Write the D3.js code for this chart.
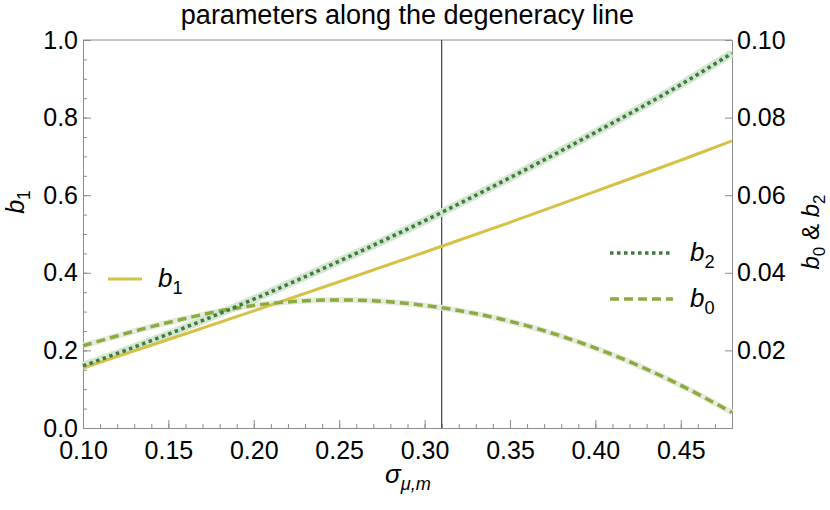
<!DOCTYPE html>
<html>
<head>
<meta charset="utf-8">
<script src="https://cdn.jsdelivr.net/npm/d3@7"></script>
<style>
  body { margin: 0; background: #fff; }
  text { font-family: "Liberation Sans", Arial, sans-serif; fill: #000; }
</style>
</head>
<body>
<div class="canvas"></div>
<script>
// values
const sigma = [0.10, 0.15, 0.20, 0.25, 0.30, 0.35, 0.40, 0.45, 0.48];
const b1 = [0.155, 0.228, 0.302, 0.377, 0.453, 0.530, 0.610, 0.690, 0.740];
const b2 = [0.0160, 0.0242, 0.0332, 0.0430, 0.0534, 0.0645, 0.0762, 0.0885, 0.0966];
const b0 = [0.0212, 0.0272, 0.0316, 0.0330, 0.0316, 0.0275, 0.0206, 0.0110, 0.0040];

const xTicks = [0.10, 0.15, 0.20, 0.25, 0.30, 0.35, 0.40, 0.45];
const leftTicks = [0.0, 0.2, 0.4, 0.6, 0.8, 1.0];
const rightTicks = [0.02, 0.04, 0.06, 0.08, 0.10];
const markerSigma = 0.31;

const dims = { width: 830, height: 510 };
const margin = { top: 40, right: 98, bottom: 82, left: 83 };
const inner = {
  w: dims.width - margin.left - margin.right,
  h: dims.height - margin.top - margin.bottom,
};

const colors = {
  b1: "#d5c146",
  b2: "#3f7a3f",
  b2halo: "#d3e6d0",
  b0: "#8bab3f",
  b0halo: "#e6eadf",
  axis: "#8c8c8c",
};

const svg = d3
  .select(".canvas")
  .append("svg")
  .attr("width", dims.width)
  .attr("height", dims.height);

const graph = svg
  .append("g")
  .attr("transform", `translate(${margin.left}, ${margin.top})`);

const x = d3.scaleLinear().domain([0.1, 0.48]).range([0, inner.w]);
const yL = d3.scaleLinear().domain([0, 1]).range([inner.h, 0]);
const yR = d3.scaleLinear().domain([0, 0.1]).range([inner.h, 0]);

// axes
const fmt2 = d3.format(".2f");
const fmt1 = d3.format(".1f");

const xAxis = d3.axisBottom(x).tickValues(xTicks).tickFormat(fmt2).tickSize(-8).tickPadding(13);
const xMinor = d3.axisBottom(x).tickValues(d3.range(10, 48).map((v) => v / 100)).tickFormat("").tickSize(-4);
const yAxisL = d3.axisLeft(yL).tickValues(leftTicks).tickFormat(fmt1).tickSize(-8).tickPadding(5);
const yMinorL = d3.axisLeft(yL).tickValues(d3.range(0, 21).map((v) => v * 0.05)).tickFormat("").tickSize(-4);
const yAxisR = d3.axisRight(yR).tickValues(rightTicks).tickFormat(fmt2).tickSize(-7).tickPadding(5);

const styleAxis = (g) => {
  g.select(".domain").attr("stroke", colors.axis);
  g.selectAll(".tick line").attr("stroke", colors.axis);
  g.selectAll(".tick text").attr("font-size", 25).attr("fill", "#000")
    .attr("font-family", '"Liberation Sans", Arial, sans-serif');
};

graph.append("g").attr("transform", `translate(0, ${inner.h})`).call(xMinor).call(styleAxis);
graph.append("g").attr("transform", `translate(0, ${inner.h})`).call(xAxis).call(styleAxis);
graph.append("g").call(yMinorL).call(styleAxis);
graph.append("g").call(yAxisL).call(styleAxis);
graph.append("g").attr("transform", `translate(${inner.w}, 0)`).call(yAxisR).call(styleAxis);

// top frame line
graph
  .append("line")
  .attr("x1", 0)
  .attr("x2", inner.w)
  .attr("y1", 0)
  .attr("y2", 0)
  .attr("stroke", colors.axis);

// vertical marker
graph
  .append("line")
  .attr("x1", x(markerSigma))
  .attr("x2", x(markerSigma))
  .attr("y1", 0)
  .attr("y2", inner.h)
  .attr("stroke", "#444")
  .attr("stroke-width", 1.2);

// curves
const lineL = d3.line().x((d) => x(d[0])).y((d) => yL(d[1])).curve(d3.curveMonotoneX);
const lineR = d3.line().x((d) => x(d[0])).y((d) => yR(d[1])).curve(d3.curveMonotoneX);
const pts = (vals) => sigma.map((s, i) => [s, vals[i]]);

const plot = graph.append("g");

plot.append("path").attr("d", lineR(pts(b0)))
  .attr("fill", "none").attr("stroke", colors.b0halo).attr("stroke-width", 6);
plot.append("path").attr("d", lineR(pts(b2)))
  .attr("fill", "none").attr("stroke", colors.b2halo).attr("stroke-width", 8);

plot.append("path").attr("d", lineL(pts(b1)))
  .attr("fill", "none").attr("stroke", colors.b1).attr("stroke-width", 3);

plot.append("path").attr("d", lineR(pts(b0)))
  .attr("fill", "none").attr("stroke", colors.b0).attr("stroke-width", 3.5)
  .attr("stroke-dasharray", "9,5");

plot.append("path").attr("d", lineR(pts(b2)))
  .attr("fill", "none").attr("stroke", colors.b2).attr("stroke-width", 3.5)
  .attr("stroke-dasharray", "3.5,3.5");

// symbol text helper: italic main + subscript
const sym = (sel, main, sub, size, subItalic) => {
  sel.append("tspan").attr("font-style", "italic").text(main);
  sel.append("tspan")
    .attr("font-size", size * 0.7)
    .attr("dy", size * 0.25)
    .attr("font-style", subItalic ? "italic" : "normal")
    .text(sub);
};

// title
svg
  .append("text")
  .attr("x", margin.left + inner.w / 2)
  .attr("y", 24)
  .attr("text-anchor", "middle")
  .attr("font-size", 27)
  .text("parameters along the degeneracy line");

// axis titles
const leftLabel = svg
  .append("text")
  .attr("transform", "translate(24, 202) rotate(-90)")
  .attr("text-anchor", "middle")
  .attr("font-size", 25);
sym(leftLabel, "b", "1", 25, false);

const rightLabel = svg
  .append("text")
  .attr("transform", "translate(819, 232) rotate(-90)")
  .attr("text-anchor", "middle")
  .attr("font-size", 24);
rightLabel.append("tspan").attr("font-style", "italic").text("b");
rightLabel.append("tspan").attr("font-size", 17).attr("dy", 6).text("0");
rightLabel.append("tspan").attr("dy", -6).text(" & ");
rightLabel.append("tspan").attr("font-style", "italic").text("b");
rightLabel.append("tspan").attr("font-size", 17).attr("dy", 6).text("2");

const bottomLabel = svg
  .append("text")
  .attr("x", 408)
  .attr("y", 483)
  .attr("text-anchor", "middle")
  .attr("font-size", 26);
sym(bottomLabel, "\u03c3", "\u03bc,m", 26, true);

// legends
const legendItems = [
  { name: "b1", main: "b", sub: "1", color: colors.b1, dash: null, x: 108, y: 279 },
  { name: "b2", main: "b", sub: "2", color: colors.b2, dash: "3.5,3.5", x: 610, y: 253 },
  { name: "b0", main: "b", sub: "0", color: colors.b0, dash: "9,5", x: 610, y: 299 },
];

legendItems.forEach((d) => {
  const len = d.name === "b1" ? 34 : 63;
  svg
    .append("line")
    .attr("x1", d.x)
    .attr("x2", d.x + len)
    .attr("y1", d.y)
    .attr("y2", d.y)
    .attr("stroke", d.color)
    .attr("stroke-width", d.dash ? 3.5 : 3)
    .attr("stroke-dasharray", d.dash);
  const t = svg
    .append("text")
    .attr("x", d.x + len + (d.name === "b1" ? 16 : 17))
    .attr("y", d.y + 8)
    .attr("font-size", 26);
  sym(t, d.main, d.sub, 26, false);
});
</script>
</body>
</html>
